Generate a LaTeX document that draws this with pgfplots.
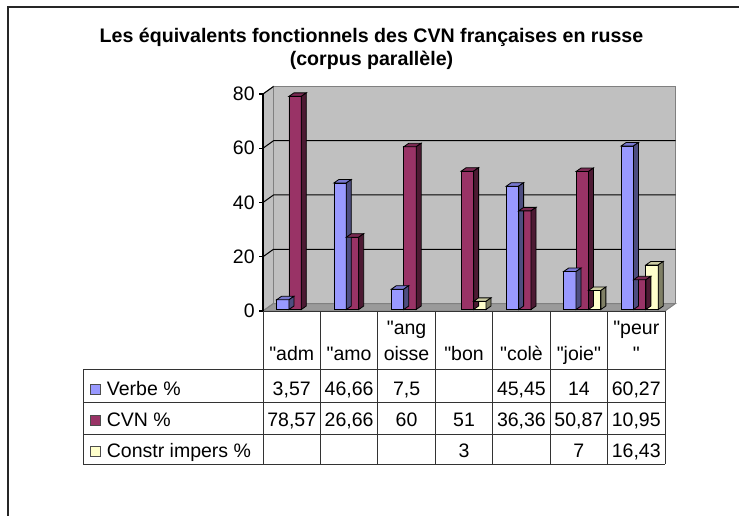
\documentclass[border=0pt]{standalone}
\usepackage{pgfplots}
\pgfplotsset{compat=1.18}
\usepackage{pgfplotstable}
\usepackage{fontspec}
\setmainfont{Liberation Sans}[Ligatures=TeXOff]

\definecolor{cverbe}{HTML}{9999FF}
\definecolor{tverbe}{HTML}{7878D0}
\definecolor{sverbe}{HTML}{4D4D80}
\definecolor{ccvn}{HTML}{993366}
\definecolor{tcvn}{HTML}{7A2952}
\definecolor{scvn}{HTML}{4D1A33}
\definecolor{cimp}{HTML}{FFFFCC}
\definecolor{timp}{HTML}{CCCCA3}
\definecolor{simp}{HTML}{808066}
\definecolor{wall}{HTML}{C0C0C0}
\definecolor{floorc}{HTML}{9A9A9A}
\definecolor{walledge}{HTML}{808080}

\pgfplotstableread{
cat verbe cvn constr
0 3.57 78.57 nan
1 46.66 26.66 nan
2 7.5 60 nan
3 nan 51 3
4 45.45 36.36 nan
5 14 50.87 7
6 60.27 10.95 16.43
}\data

% top and side faces of a 3D bar (origin = data point on the front plane)
\newcommand{\declbar}[5]{%
 \pgfdeclareplotmark{#1}{%
  \pgfmathsetlengthmacro\hh{\myv*1.35625pt}%
  \pgfsetlinewidth{0.4pt}%
  \pgfsetstrokecolor{black}%
  \pgfsetfillcolor{#4}%
  \pgfpathmoveto{\pgfpoint{#2}{0.75pt}}%
  \pgfpathlineto{\pgfpoint{#3}{0.75pt}}%
  \pgfpathlineto{\pgfpoint{#3+2.5pt}{2.5pt}}%
  \pgfpathlineto{\pgfpoint{#2+2.5pt}{2.5pt}}%
  \pgfpathclose
  \pgfusepath{fill,stroke}%
  \pgfsetfillcolor{#5}%
  \pgfpathmoveto{\pgfpoint{#3}{0.75pt}}%
  \pgfpathlineto{\pgfpoint{#3}{0.75pt-\hh}}%
  \pgfpathlineto{\pgfpoint{#3+2.5pt}{2.5pt-\hh}}%
  \pgfpathlineto{\pgfpoint{#3+2.5pt}{2.5pt}}%
  \pgfpathclose
  \pgfusepath{fill,stroke}%
 }}
\declbar{bvA}{-7.6pt}{-1.4pt}{tverbe}{sverbe}
\declbar{bvB}{-1.4pt}{4.8pt}{tcvn}{scvn}
\declbar{bvC}{4.8pt}{11pt}{timp}{simp}

\begin{document}
\begin{tikzpicture}
\useasboundingbox (0,0) rectangle (369.5pt,257.5pt);
\begin{scope}[shift={(0pt,257.5pt)}, x=0.5pt, y=-0.5pt]
 % frame
 \draw[line width=1pt, black!85] (8,520) -- (8,7) -- (745,7);
 % title
 \node[font=\bfseries\fontsize{9.8pt}{11pt}\selectfont, anchor=base, inner sep=0pt] at (371.5,43) {Les équivalents fonctionnels des CVN françaises en russe};
 \node[font=\bfseries\fontsize{9.8pt}{11pt}\selectfont, anchor=base, inner sep=0pt] at (371.5,65.5) {(corpus parallèle)};
 % walls
 \filldraw[fill=wall, draw=walledge, line width=0.5pt] (263,311) -- (263,94) -- (273.5,86.5) -- (273.5,303.5) -- cycle;
 \filldraw[fill=wall, draw=walledge, line width=0.5pt] (273.5,86.5) rectangle (675.5,303.5);
 \filldraw[fill=floorc, draw=walledge, line width=0.5pt] (263,311) -- (665,311) -- (675.5,303.5) -- (273.5,303.5) -- cycle;
 % gridlines
 \foreach \v in {20,40,60} {
   \draw[black, line width=0.5pt] (263,{311-\v*2.7125}) -- (273.5,{303.5-\v*2.7125}) -- (675.5,{303.5-\v*2.7125});
 }
 \draw[black, line width=0.5pt] (263,94) -- (273.5,86.5);
 % table grid
 \begin{scope}[line width=0.5pt, black!80]
  \draw (263,311) -- (665,311);
  \foreach \yy in {369,402,434,464} \draw (83,\yy) -- (665,\yy);
  \draw (83,369) -- (83,464);
  \foreach \k in {0,...,7} \draw ({263+57.4286*\k},311) -- ({263+57.4286*\k},464);
 \end{scope}
 % table text
 \begin{scope}[font=\fontsize{9.75pt}{11pt}\selectfont, every node/.style={inner sep=0pt, anchor=base}]
  \foreach \lab [count=\k from 0] in {{"adm},{"amo},{},{"bon},{"colè},{"joie"},{}}
    \node at ({263+57.4286*(\k+0.5)},360) {\lab};
  \node at ({263+57.4286*2.5},334) {"ang};
  \node at ({263+57.4286*2.5},360) {oisse};
  \node at ({263+57.4286*6.5},334) {"peur};
  \node at ({263+57.4286*6.5},360) {"};
  \foreach \lab [count=\k from 0] in {{3,57},{46,66},{7,5},{},{45,45},{14},{60,27}}
    \node at ({263+57.4286*(\k+0.5)},395) {\lab};
  \foreach \lab [count=\k from 0] in {{78,57},{26,66},{60},{51},{36,36},{50,87},{10,95}}
    \node at ({263+57.4286*(\k+0.5)},426) {\lab};
  \foreach \lab [count=\k from 0] in {{},{},{},{3},{},{7},{16,43}}
    \node at ({263+57.4286*(\k+0.5)},457) {\lab};
  % legend keys
  \filldraw[fill=cverbe, draw=black!70, line width=0.4pt] (90,384) rectangle (100,394);
  \node[anchor=base west] at (106.5,395) {Verbe \%};
  \filldraw[fill=ccvn, draw=black!70, line width=0.4pt] (90,415) rectangle (100,425);
  \node[anchor=base west] at (106.5,426) {CVN \%};
  \filldraw[fill=cimp, draw=black!70, line width=0.4pt] (90,446) rectangle (100,456);
  \node[anchor=base west] at (106.5,457) {Constr impers \%};
 \end{scope}
\end{scope}

\begin{axis}[
  at={(131.5pt,102pt)}, anchor=south west,
  scale only axis, width=201pt, height=108.5pt,
  xmin=0, xmax=7, ymin=0, ymax=80,
  axis x line=none, axis y line*=left,
  ytick={0,20,40,60,80}, xtick=\empty,
  tick align=outside, major tick length=2pt,
  y axis line style={black, line width=0.6pt},
  ytick style={black, line width=0.6pt},
  yticklabel style={font=\fontsize{9.75pt}{11pt}\selectfont, inner sep=0pt, anchor=east, xshift=-2pt},
  /pgf/number format/assume math mode=true,
  clip=false, axis on top,
]
\addplot[only marks, mark=bvA, visualization depends on={\thisrow{verbe} \as \myv}]
  table[x expr=\thisrow{cat}+0.5, y=verbe]{\data};
\addplot[ybar, bar width=6.2pt, bar shift=-4.5pt, yshift=0.75pt, fill=cverbe, draw=black, line width=0.4pt]
  table[x expr=\thisrow{cat}+0.5, y=verbe]{\data};
\addplot[only marks, mark=bvB, visualization depends on={\thisrow{cvn} \as \myv}]
  table[x expr=\thisrow{cat}+0.5, y=cvn]{\data};
\addplot[ybar, bar width=6.2pt, bar shift=1.7pt, yshift=0.75pt, fill=ccvn, draw=black, line width=0.4pt]
  table[x expr=\thisrow{cat}+0.5, y=cvn]{\data};
\addplot[only marks, mark=bvC, visualization depends on={\thisrow{constr} \as \myv}]
  table[x expr=\thisrow{cat}+0.5, y=constr]{\data};
\addplot[ybar, bar width=6.2pt, bar shift=7.9pt, yshift=0.75pt, fill=cimp, draw=black, line width=0.4pt]
  table[x expr=\thisrow{cat}+0.5, y=constr]{\data};
\end{axis}
\end{tikzpicture}
\end{document}
